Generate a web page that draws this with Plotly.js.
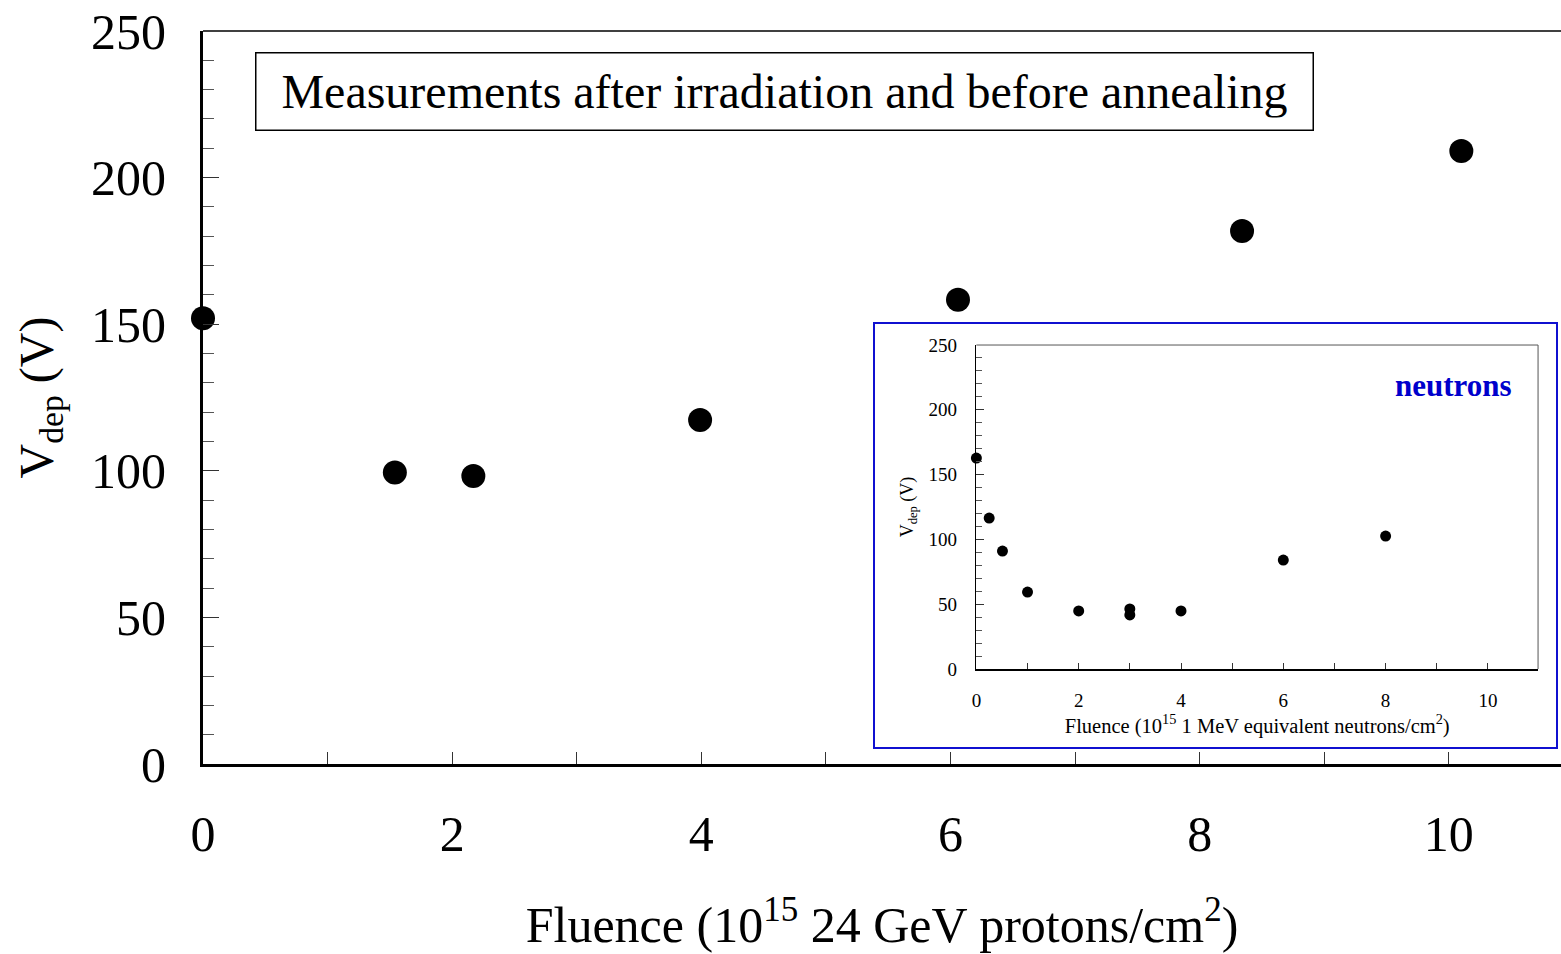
<!DOCTYPE html>
<html>
<head>
<meta charset="utf-8">
<script src="https://cdn.plot.ly/plotly-3.0.1.min.js"></script>
<style>
  html, body { margin: 0; padding: 0; background: #fff; }
  #chart { width: 1561px; height: 954px; }
</style>
</head>
<body>
<div id="chart"></div>
<script>
// Depletion voltage after 24 GeV proton irradiation (main panel)
const protonFluence = [0, 1.54, 2.17, 3.99, 6.06, 8.34, 10.10];
const protonVdep    = [152, 99.4, 98.2, 117.3, 158.3, 181.8, 209.1];

// Depletion voltage after neutron irradiation (inset)
const neutronFluence = [0, 0.25, 0.51, 1.0, 2.0, 3.0, 3.0, 4.0, 6.0, 8.0];
const neutronVdep    = [162.8, 116.5, 91, 59.4, 44.8, 46.3, 41.7, 44.8, 84.1, 102.6];

const xTickVals = [0, 2, 4, 6, 8, 10];
const yTickVals = [0, 50, 100, 150, 200, 250];

const serif = 'Liberation Serif, Times New Roman, serif';

const traces = [
  {
    x: protonFluence, y: protonVdep,
    type: 'scatter', mode: 'markers',
    marker: { color: '#000', size: 24, line: { width: 0 } },
    xaxis: 'x', yaxis: 'y',
    cliponaxis: false, hoverinfo: 'x+y'
  },
  {
    x: neutronFluence, y: neutronVdep,
    type: 'scatter', mode: 'markers',
    marker: { color: '#000', size: 11, line: { width: 0 } },
    xaxis: 'x2', yaxis: 'y2',
    cliponaxis: false, hoverinfo: 'x+y'
  }
];

const layout = {
  width: 1561, height: 954,
  margin: { l: 203, r: 0, t: 31, b: 190 },
  paper_bgcolor: '#fff',
  plot_bgcolor: 'rgba(0,0,0,0)',
  showlegend: false,
  font: { family: serif, color: '#000' },
  xaxis: {
    domain: [0, 1],
    range: [0, 10.90],
    tickvals: xTickVals,
    ticktext: xTickVals.map(String),
    ticks: 'inside', ticklen: 12, tickwidth: 1, tickcolor: '#333',
    minor: { dtick: 1, tick0: 0, ticks: 'inside', ticklen: 12, tickwidth: 1, tickcolor: '#333' },
    showline: true, linewidth: 3, linecolor: '#000',
    showgrid: false, zeroline: false,
    tickfont: { family: serif, size: 50 },
    ticklabelstandoff: 24,
    title: { text: 'Fluence (10<sup>15</sup> 24 GeV protons/cm<sup>2</sup>)',
             font: { family: serif, size: 50 }, standoff: 46 },
    automargin: false
  },
  yaxis: {
    domain: [0, 1],
    range: [0, 250],
    tickvals: yTickVals,
    ticktext: yTickVals.map(String),
    ticks: 'inside', ticklen: 16, tickwidth: 1, tickcolor: '#333',
    minor: { dtick: 10, tick0: 0, ticks: 'inside', ticklen: 11, tickwidth: 1, tickcolor: '#555' },
    showline: true, linewidth: 3, linecolor: '#000',
    showgrid: false, zeroline: false,
    tickfont: { family: serif, size: 50 },
    ticklabelstandoff: 24,
    title: { text: 'V<sub>dep</sub> (V)', font: { family: serif, size: 48 }, standoff: 23 },
    automargin: false
  },
  xaxis2: {
    domain: [0.5695, 0.9831],
    anchor: 'y2',
    range: [0, 10.98],
    tickvals: xTickVals,
    ticktext: xTickVals.map(String),
    ticks: 'inside', ticklen: 6, tickwidth: 1, tickcolor: '#333',
    minor: { dtick: 1, tick0: 0, ticks: 'inside', ticklen: 6, tickwidth: 1, tickcolor: '#333' },
    showline: true, linewidth: 1.5, linecolor: '#000',
    showgrid: false, zeroline: false,
    tickfont: { family: serif, size: 19 },
    ticklabelstandoff: 14,
    title: { text: 'Fluence (10<sup>15</sup> 1 MeV equivalent neutrons/cm<sup>2</sup>)',
             font: { family: serif, size: 20.5 }, standoff: 8 },
    automargin: false
  },
  yaxis2: {
    domain: [0.1296, 0.5716],
    anchor: 'x2',
    range: [0, 250],
    tickvals: yTickVals,
    ticktext: yTickVals.map(String),
    ticks: 'inside', ticklen: 8, tickwidth: 1, tickcolor: '#333',
    minor: { dtick: 10, tick0: 0, ticks: 'inside', ticklen: 6, tickwidth: 1, tickcolor: '#555' },
    showline: true, linewidth: 1.5, linecolor: '#000',
    showgrid: false, zeroline: false,
    tickfont: { family: serif, size: 19 },
    ticklabelstandoff: 14,
    title: { text: 'V<sub>dep</sub> (V)', font: { family: serif, size: 18 }, standoff: 10 },
    automargin: false
  },
  shapes: [
    // top frame line of the main panel
    { type: 'line', xref: 'paper', yref: 'paper', x0: 0, x1: 1, y0: 1, y1: 1,
      line: { color: '#000', width: 1.5 } },
    // inset background with blue border
    { type: 'rect', xref: 'paper', yref: 'paper', layer: 'below',
      x0: (874 - 203) / 1358, x1: (1557 - 203) / 1358,
      y0: (764 - 748) / 733, y1: (764 - 323) / 733,
      fillcolor: '#fff', line: { color: '#1010d0', width: 2 } },
    // inset frame: top and right edges
    { type: 'line', xref: 'x2 domain', yref: 'y2 domain', x0: 0, x1: 1, y0: 1, y1: 1,
      line: { color: '#555', width: 1 } },
    { type: 'line', xref: 'x2 domain', yref: 'y2 domain', x0: 1, x1: 1, y0: 0, y1: 1,
      line: { color: '#555', width: 1 } }
  ],
  annotations: [
    {
      xref: 'paper', yref: 'paper',
      x: (255 - 203) / 1358, y: (764 - 52) / 733,
      xanchor: 'left', yanchor: 'top',
      text: 'Measurements after irradiation and before annealing',
      showarrow: false,
      font: { family: serif, size: 48, color: '#000' },
      bordercolor: '#000', borderwidth: 1.5, borderpad: 12,
      bgcolor: '#fff', width: 1032, height: 52, align: 'center'
    },
    {
      xref: 'x2 domain', yref: 'y2 domain',
      x: 0.957, y: 0.875, xanchor: 'right', yanchor: 'middle',
      text: '<b>neutrons</b>', showarrow: false,
      font: { family: serif, size: 31, color: '#0000cc' }
    }
  ]
};

Plotly.newPlot('chart', traces, layout, { displayModeBar: false, staticPlot: true });
</script>
</body>
</html>
